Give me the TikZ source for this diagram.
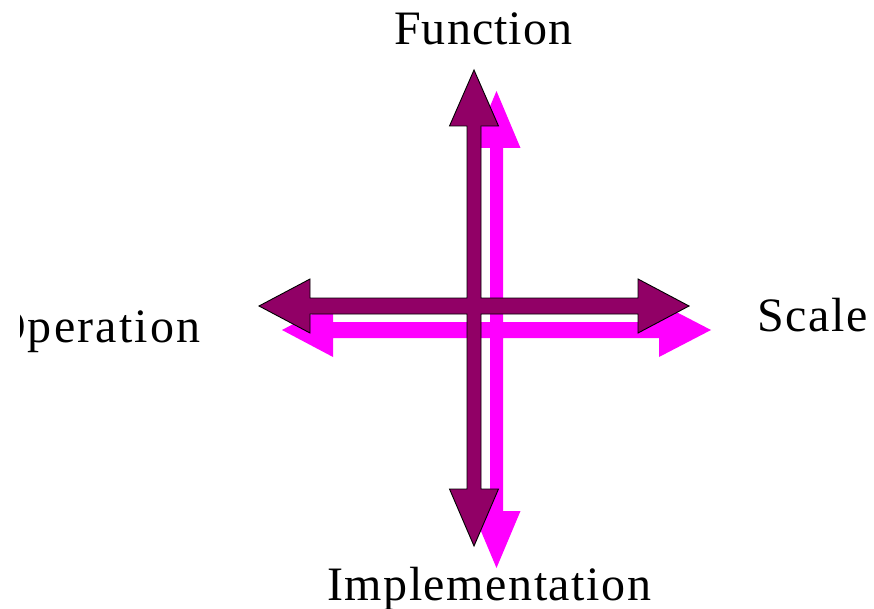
\documentclass[tikz,border=0pt]{standalone}
\usepackage{fontspec}
\setmainfont{Liberation Serif}
\definecolor{plum}{RGB}{145,0,102}
\definecolor{mag}{RGB}{255,0,255}
\tikzset{
  lbl/.style={inner sep=0pt, font=\fontsize{48}{48}\selectfont},
  darkx/.style={fill=plum, draw=black, line width=0.9pt, line join=miter},
  lightx/.style={fill=mag}
}
\begin{document}
\begin{tikzpicture}[x=1pt,y=-1pt]
\useasboundingbox (0,0) rectangle (874,609);
% magenta (shadow) cross
\path[lightx] (496.5,91) -- (520.5,148) -- (503,148) -- (503,322) -- (659,322) -- (659,303)
  -- (711,330) -- (659,357) -- (659,338) -- (503,338) -- (503,511) -- (520.5,511)
  -- (496.5,568) -- (472.5,511) -- (490,511) -- (490,338) -- (333,338) -- (333,357)
  -- (282,330) -- (333,303) -- (333,322) -- (490,322) -- (490,148) -- (472.5,148) -- cycle;
% dark cross
\path[darkx] (474,70) -- (498.5,126) -- (481,126) -- (481,298) -- (638,298) -- (638,279)
  -- (689,306) -- (638,333) -- (638,314) -- (481,314) -- (481,489) -- (498.5,489)
  -- (474,546) -- (449.5,489) -- (467,489) -- (467,314) -- (310,314) -- (310,333)
  -- (259,306) -- (310,279) -- (310,298) -- (467,298) -- (467,126) -- (449.5,126) -- cycle;
% labels
\node[lbl, anchor=base west] (function) at (394,45) {\addfontfeature{LetterSpace=2.2}Function};
\node[lbl, anchor=base west] (scale) at (757,331) {\addfontfeature{LetterSpace=3.5}Scale};
\node[lbl, anchor=base west] (impl) at (327,600) {\addfontfeature{LetterSpace=3.2}Implementation};
\begin{scope}
  \clip (20,280) rectangle (240,370);
  \node[lbl, anchor=base west] (operation) at (-9,342) {\addfontfeature{LetterSpace=4.5}Operation};
\end{scope}
\end{tikzpicture}
\end{document}
